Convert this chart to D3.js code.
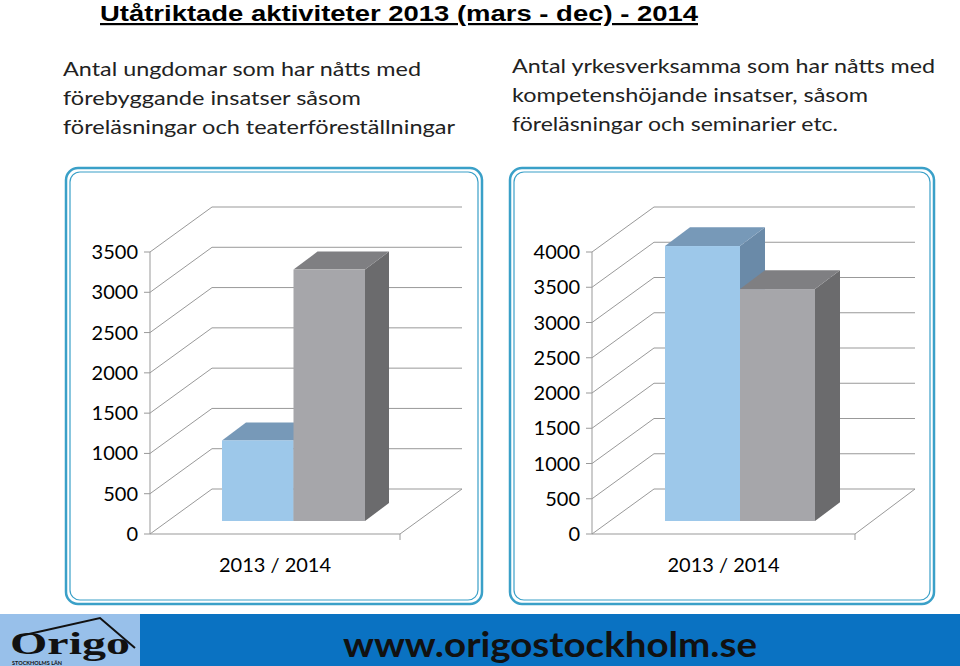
<!DOCTYPE html><html><head><meta charset="utf-8"><script src="https://cdn.jsdelivr.net/npm/d3@7"></script>
<style>body{margin:0;background:#fff}svg{display:block}</style></head><body><svg width="960" height="666"></svg>
<script>
const categories=["2013 / 2014"];
const seriesLabels=["2013","2014"];
const leftValues=[1000,3120];
const rightValues=[3900,3290];
const leftTicks=[0,500,1000,1500,2000,2500,3000,3500];
const rightTicks=[0,500,1000,1500,2000,2500,3000,3500,4000];
const svg=d3.select("svg");
const F="Lato, 'Open Sans', sans-serif";
svg.append("text").attr("x",100).attr("y",21).attr("font-family","Liberation Sans, Arial").attr("font-weight","bold").attr("font-size",22).attr("textLength",598).attr("lengthAdjust","spacingAndGlyphs").attr("text-decoration","underline").text("Utåtriktade aktiviteter 2013 (mars - dec) -  2014");
[["Antal ungdomar som har nåtts med",76,358],["förebyggande insatser såsom",105,298],["föreläsningar och teaterföreställningar",134,392]].forEach(([t,y,w])=>svg.append("text").attr("x",63).attr("y",y).attr("font-family",F).attr("font-size",20).attr("textLength",w).attr("lengthAdjust","spacingAndGlyphs").attr("fill","#222").text(t));
[["Antal yrkesverksamma som har nåtts med",73,423],["kompetenshöjande insatser, såsom",102,356],["föreläsningar och seminarier etc.",131,326]].forEach(([t,y,w])=>svg.append("text").attr("x",512).attr("y",y).attr("font-family",F).attr("font-size",20).attr("textLength",w).attr("lengthAdjust","spacingAndGlyphs").attr("fill","#222").text(t));
function panel(o){
  const g=svg.append("g");
  g.append("rect").attr("x",o.px).attr("y",168).attr("width",o.pw).attr("height",436).attr("rx",12).attr("fill","none").attr("stroke","#3aa0c8").attr("stroke-width",2.5);
  g.append("rect").attr("x",o.px+4).attr("y",172).attr("width",o.pw-8).attr("height",428).attr("rx",10).attr("fill","none").attr("stroke","#3aa0c8").attr("stroke-width",1.2);
  const y=d3.scaleLinear().domain([0,o.max]).range([534,252]);
  const DX=62,DY=-45,ax=o.ax,fr=o.fr,br=o.br;
  const line=(a,b,c,d)=>g.append("line").attr("x1",a).attr("y1",b).attr("x2",c).attr("y2",d).attr("stroke","#999").attr("stroke-width",1);
  o.ticks.forEach(t=>{const yy=y(t);line(ax,yy,ax+DX,yy+DY);line(ax+DX,yy+DY,br,yy+DY);
    line(ax-6,yy,ax,yy);
    g.append("text").attr("x",ax-12).attr("y",yy+7).attr("text-anchor","end").attr("font-family",F).attr("font-size",20).text(t);});
  line(ax,y(0),ax,y(o.max));line(ax,y(0),fr,y(0));line(fr,y(0),br,y(0)+DY);line(fr,y(0),fr,y(0)+6);
  const x=d3.scaleBand().domain(seriesLabels).range([o.bx,o.bx+2*o.bw]);
  const oy=-13,d=o.depth,dyd=-d*0.75;
  o.values.forEach((v,i)=>{const x0=x(seriesLabels[i]),x1=x0+x.bandwidth(),yb=y(0)+oy,yt=y(v)+oy;const c=o.colors[i];
    g.append("polygon").attr("points",[[x1,yb],[x1+d,yb+dyd],[x1+d,yt+dyd],[x1,yt]].join(" ")).attr("fill",c[2]);
    g.append("polygon").attr("points",[[x0,yt],[x0+d,yt+dyd],[x1+d,yt+dyd],[x1,yt]].join(" ")).attr("fill",c[1]);
    g.append("rect").attr("x",x0).attr("y",yt).attr("width",x.bandwidth()).attr("height",yb-yt).attr("fill",c[0]);});
  g.append("text").attr("x",(ax+fr)/2).attr("y",572).attr("text-anchor","middle").attr("font-family",F).attr("font-size",20).text(categories[0]);
}
const cols=[["#9dc8ea","#7799b8","#6a8aa8"],["#a6a6aa","#7f7f82","#6b6b6d"]];
panel({px:66,pw:416,ax:150,fr:400,br:462,max:3500,ticks:leftTicks,values:leftValues,bx:222,bw:71.5,depth:24,colors:cols});
panel({px:510,pw:424,ax:592,fr:855,br:915,max:4000,ticks:rightTicks,values:rightValues,bx:665,bw:75,depth:25,colors:cols});
svg.append("rect").attr("x",0).attr("y",614).attr("width",960).attr("height",52).attr("fill","#0a72c2");
svg.append("rect").attr("x",0).attr("y",614).attr("width",140).attr("height",52).attr("fill","#98c0ea");
svg.append("path").attr("d","M20 636 L100 618 L135 648").attr("fill","none").attr("stroke","#111").attr("stroke-width",2);
svg.append("text").attr("x",10).attr("y",654).attr("font-family","Liberation Serif, serif").attr("font-weight","bold").attr("font-size",32).attr("textLength",120).attr("lengthAdjust","spacingAndGlyphs").attr("fill","#111").text("Origo");
svg.append("text").attr("x",12).attr("y",665).attr("font-family",F).attr("font-size",5.5).attr("font-weight","bold").attr("fill","#111").text("STOCKHOLMS LÄN");
svg.append("text").attr("x",550).attr("y",657).attr("text-anchor","middle").attr("font-family",F).attr("font-weight","bold").attr("font-size",34).attr("textLength",414).attr("lengthAdjust","spacingAndGlyphs").attr("fill","#111").text("www.origostockholm.se");
</script></body></html>
